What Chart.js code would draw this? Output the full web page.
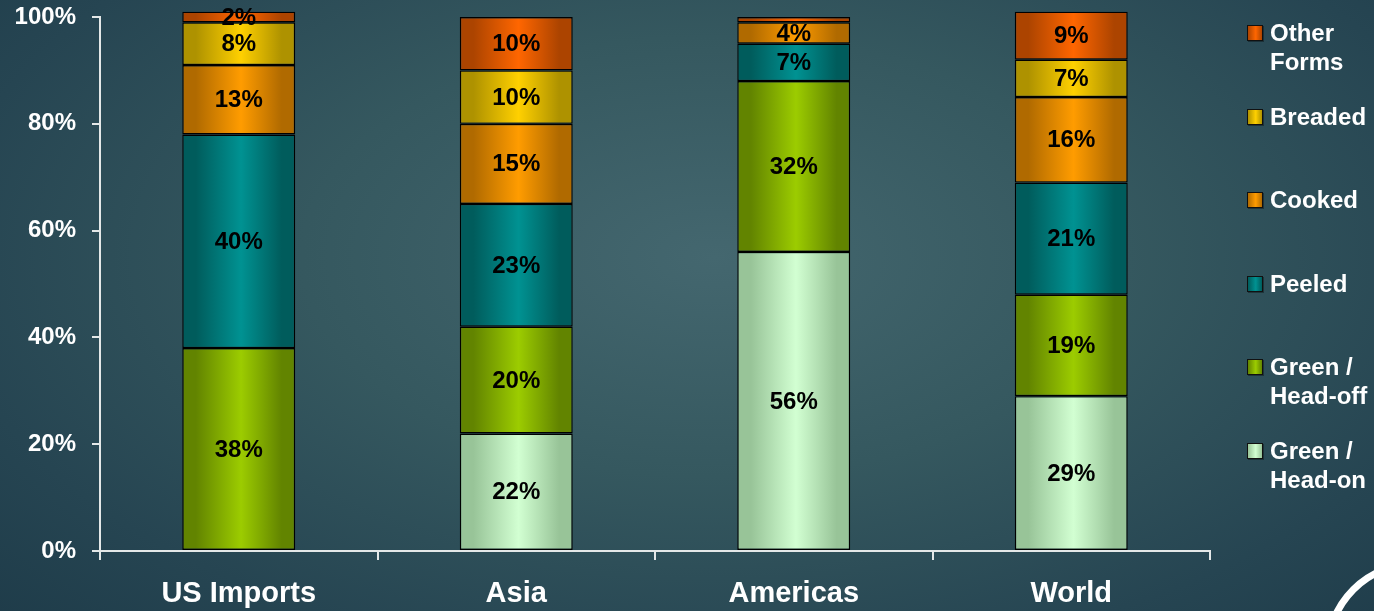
<!DOCTYPE html>
<html>
<head>
<meta charset="utf-8">
<script src="https://cdn.jsdelivr.net/npm/chart.js@4/dist/chart.umd.min.js"></script>
<style>
html,body{margin:0;padding:0;overflow:hidden;}
#wrap{position:relative;width:1374px;height:611px;overflow:hidden;
  background:radial-gradient(ellipse 75% 90% at 52% 42%, #44676f 0%, #35585f 40%, #264552 75%, #1d3a48 100%);
  font-family:"Liberation Sans",Arial,sans-serif;}
#legend{position:absolute;left:0;top:0;}
.lg{position:absolute;left:1247px;}
.lg i{position:absolute;left:0;top:7px;width:14px;height:14px;border:1px solid #111;box-shadow:1px 1px 0 rgba(0,0,0,.35);}
.lg span{position:absolute;left:23px;top:0;color:#fff;font-weight:bold;font-size:24px;line-height:29px;white-space:nowrap;}
#logo{position:absolute;left:1324px;top:560px;width:184px;height:184px;border-radius:50%;border:7px solid #fff;box-sizing:border-box;}
</style>
</head>
<body>
<div id="wrap">
  <canvas id="c" width="1374" height="611"></canvas>
  <div id="legend"></div>
  <div id="logo"></div>
</div>
<script>
const regions = ['US Imports', 'Asia', 'Americas', 'World'];
const headOn  = [null, 22, 56, 29];
const headOff = [38, 20, 32, 19];
const peeled  = [40, 23, 7, 21];
const cooked  = [13, 15, 4, 16];
const breaded = [8, 10, null, 7];
const other   = [2, 10, 1, 9];
const yTicks  = [0, 20, 40, 60, 80, 100];

// stacked bottom -> top; legend lists them top -> bottom
const series = [
  {name: ['Green /', 'Head-on'],  data: headOn,  edge: '#98c498', mid: '#d2ffd2'},
  {name: ['Green /', 'Head-off'], data: headOff, edge: '#628400', mid: '#9ccc00'},
  {name: ['Peeled'],              data: peeled,  edge: '#005c5c', mid: '#009292'},
  {name: ['Cooked'],              data: cooked,  edge: '#b06a00', mid: '#ff9c00'},
  {name: ['Breaded'],             data: breaded, edge: '#ae9200', mid: '#ffd000'},
  {name: ['Other', 'Forms'],      data: other,   edge: '#ac4400', mid: '#ff6600'}
];
const BAR_PCT = 0.407;

const gradCache = {};
function barFill(s) {
  return ctx => {
    const chart = ctx.chart, xs = chart.scales.x;
    if (!chart.chartArea || !xs || ctx.dataIndex === undefined) return s.mid;
    const key = s.mid + ctx.dataIndex + '_' + xs.width;
    if (gradCache[key]) return gradCache[key];
    const cx = xs.getPixelForValue(ctx.dataIndex);
    const half = xs.width / regions.length * BAR_PCT / 2;
    const g = chart.ctx.createLinearGradient(cx - half, 0, cx + half, 0);
    g.addColorStop(0, s.edge);
    g.addColorStop(0.12, s.edge);
    g.addColorStop(0.52, s.mid);
    g.addColorStop(0.88, s.edge);
    g.addColorStop(1, s.edge);
    return (gradCache[key] = g);
  };
}

// percent text in the middle of each segment
const segmentLabels = {
  id: 'segmentLabels',
  afterDatasetsDraw(chart) {
    const ctx = chart.ctx;
    ctx.save();
    ctx.font = 'bold 24px "Liberation Sans", Arial, sans-serif';
    ctx.fillStyle = '#000';
    ctx.textAlign = 'center';
    ctx.textBaseline = 'middle';
    chart.data.datasets.forEach((ds, i) => {
      chart.getDatasetMeta(i).data.forEach((bar, j) => {
        const v = ds.data[j];
        if (v == null || v < 2) return;
        const p = bar.getProps(['x', 'y', 'base'], true);
        ctx.fillText(v + '%', p.x, (p.y + p.base) / 2 + 1);
      });
    });
    ctx.restore();
  }
};

const axisCol = '#e4e8e8';
new Chart(document.getElementById('c'), {
  type: 'bar',
  data: {
    labels: regions,
    datasets: series.map(s => ({
      label: s.name.join(' '),
      data: s.data,
      backgroundColor: barFill(s),
      borderColor: '#000',
      borderWidth: 1.4,
      borderSkipped: false,
      categoryPercentage: 1,
      barPercentage: BAR_PCT,
      clip: false
    }))
  },
  options: {
    responsive: false,
    animation: false,
    layout: {padding: {top: 17, right: 164, left: 0, bottom: 0}},
    plugins: {legend: {display: false}, tooltip: {enabled: false}},
    scales: {
      x: {
        stacked: true,
        afterFit: s => { s.height = 60; s.paddingLeft = 0; s.paddingRight = 0; },
        border: {display: true, color: axisCol, width: 2},
        grid: {drawOnChartArea: false, drawTicks: true, tickLength: 9, color: axisCol, lineWidth: 2, offset: true},
        ticks: {color: '#fff', padding: 17, font: {family: '"Liberation Sans", Arial', size: 29, weight: 'bold'}}
      },
      y: {
        stacked: true,
        min: 0, max: 100,
        afterFit: s => { s.width = 100; s.paddingTop = 0; s.paddingBottom = 0; },
        afterBuildTicks: s => { s.ticks = yTicks.map(v => ({value: v})); },
        border: {display: true, color: axisCol, width: 2},
        grid: {drawOnChartArea: false, drawTicks: true, tickLength: 8, color: axisCol, lineWidth: 2},
        ticks: {color: '#fff', padding: 16, callback: v => v + '%',
          font: {family: '"Liberation Sans", Arial', size: 24, weight: 'bold'}}
      }
    }
  },
  plugins: [segmentLabels]
});

// legend, top item first
const lg = document.getElementById('legend');
series.slice().reverse().forEach((s, i) => {
  const d = document.createElement('div');
  d.className = 'lg';
  d.style.top = (18 + i * 83.6) + 'px';
  const sw = document.createElement('i');
  sw.style.background = `linear-gradient(90deg, ${s.edge}, ${s.mid} 55%, ${s.edge})`;
  const t = document.createElement('span');
  t.innerHTML = s.name.join('<br>');
  d.appendChild(sw); d.appendChild(t);
  lg.appendChild(d);
});
</script>
</body>
</html>
